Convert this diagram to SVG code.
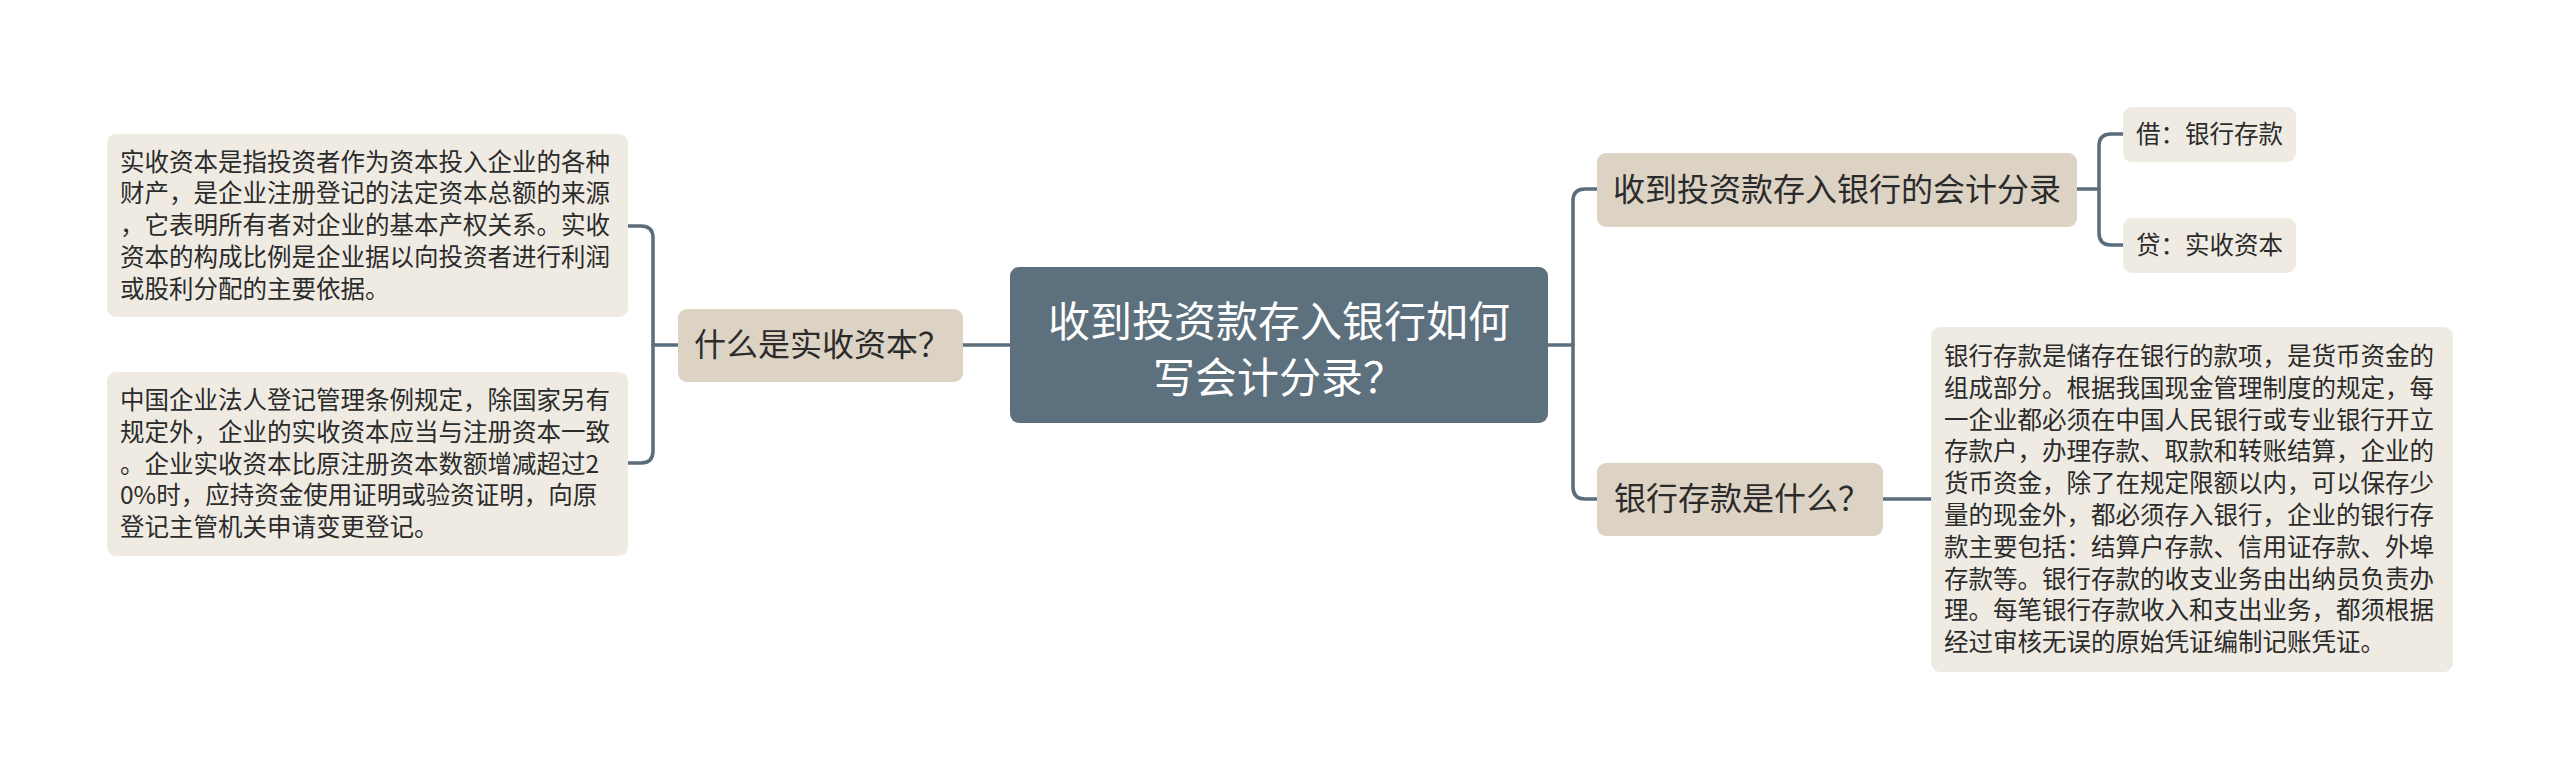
<svg xmlns="http://www.w3.org/2000/svg" width="2560" height="779" viewBox="0 0 2560 779">
<style>
.leaf{fill:#efebe3}
.mid{fill:#ddd3c4}
.root{fill:#5d707d}
.t{font-family:"Noto Sans CJK SC","Noto Sans",sans-serif;fill:#2b2b2b}
.s{font-size:24.5px}
.m{font-size:32px}
.r{font-size:42px;fill:#ffffff}
.c{fill:none;stroke:#5b6d7a;stroke-width:3.5;stroke-linecap:round;stroke-linejoin:round}
</style>
<rect width="2560" height="779" fill="#ffffff"/>
<g id="connectors">
<path class="c" d="M1010,345 H963"/>
<path class="c" d="M678,345 H653"/>
<path class="c" d="M628,226 H641 Q653,226 653,238 V451 Q653,463 641,463 H628"/>
<path class="c" d="M1548,345 H1573"/>
<path class="c" d="M1597,189 H1585 Q1573,189 1573,201 V487 Q1573,499 1585,499 H1597"/>
<path class="c" d="M1883,499 H1931"/>
<path class="c" d="M2077,189 H2099"/>
<path class="c" d="M2123,134 H2111 Q2099,134 2099,146 V233 Q2099,245 2111,245 H2123"/>
</g>
<g id="root">
<rect class="root" x="1010" y="267" width="538" height="156" rx="9"/>
<text class="t r" text-anchor="middle"><tspan x="1279" y="337">收到投资款存入银行如何</tspan><tspan x="1279" y="393">写会计分录？</tspan></text>
</g>
<g id="n-what-capital">
<rect class="mid" x="678" y="309" width="285" height="73" rx="9"/>
<text class="t m" x="694" y="356">什么是实收资本？</text>
</g>
<g id="leaf-capital-1">
<rect class="leaf" x="107" y="134" width="521" height="183" rx="9"/>
<text class="t s"><tspan x="120" y="170.5">实收资本是指投资者作为资本投入企业的各种</tspan><tspan x="120" y="202.3">财产，是企业注册登记的法定资本总额的来源</tspan><tspan x="120" y="234.1">，它表明所有者对企业的基本产权关系。实收</tspan><tspan x="120" y="265.9">资本的构成比例是企业据以向投资者进行利润</tspan><tspan x="120" y="297.7">或股利分配的主要依据。</tspan></text>
</g>
<g id="leaf-capital-2">
<rect class="leaf" x="107" y="372" width="521" height="184" rx="9"/>
<text class="t s"><tspan x="120" y="409">中国企业法人登记管理条例规定，除国家另有</tspan><tspan x="120" y="440.8">规定外，企业的实收资本应当与注册资本一致</tspan><tspan x="120" y="472.6">。企业实收资本比原注册资本数额增减超过2</tspan><tspan x="120" y="504.4">0%时，应持资金使用证明或验资证明，向原</tspan><tspan x="120" y="536.2">登记主管机关申请变更登记。</tspan></text>
</g>
<g id="n-entry">
<rect class="mid" x="1597" y="153" width="480" height="74" rx="9"/>
<text class="t m" x="1613" y="201">收到投资款存入银行的会计分录</text>
</g>
<g id="leaf-debit">
<rect class="leaf" x="2123" y="107" width="173" height="55" rx="9"/>
<text class="t s" x="2136" y="142.5">借：银行存款</text>
</g>
<g id="leaf-credit">
<rect class="leaf" x="2123" y="218" width="173" height="55" rx="9"/>
<text class="t s" x="2136" y="253.5">贷：实收资本</text>
</g>
<g id="n-deposit">
<rect class="mid" x="1597" y="463" width="286" height="73" rx="9"/>
<text class="t m" x="1614" y="510">银行存款是什么？</text>
</g>
<g id="leaf-deposit">
<rect class="leaf" x="1931" y="327" width="522" height="345" rx="9"/>
<text class="t s"><tspan x="1944" y="365">银行存款是储存在银行的款项，是货币资金的</tspan><tspan x="1944" y="396.8">组成部分。根据我国现金管理制度的规定，每</tspan><tspan x="1944" y="428.6">一企业都必须在中国人民银行或专业银行开立</tspan><tspan x="1944" y="460.4">存款户，办理存款、取款和转账结算，企业的</tspan><tspan x="1944" y="492.2">货币资金，除了在规定限额以内，可以保存少</tspan><tspan x="1944" y="524">量的现金外，都必须存入银行，企业的银行存</tspan><tspan x="1944" y="555.8">款主要包括：结算户存款、信用证存款、外埠</tspan><tspan x="1944" y="587.6">存款等。银行存款的收支业务由出纳员负责办</tspan><tspan x="1944" y="619.4">理。每笔银行存款收入和支出业务，都须根据</tspan><tspan x="1944" y="651.2">经过审核无误的原始凭证编制记账凭证。</tspan></text>
</g>
</svg>
